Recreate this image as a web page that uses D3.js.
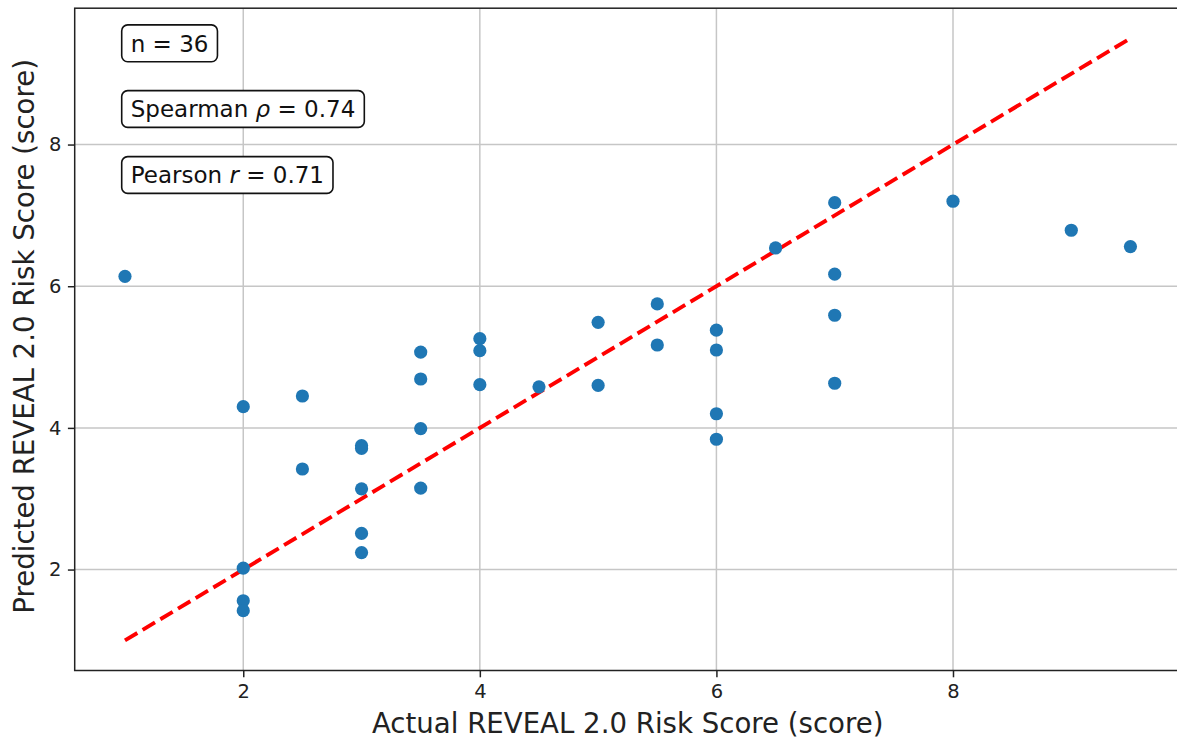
<!DOCTYPE html>
<html>
<head>
<meta charset="utf-8">
<script src="https://cdn.jsdelivr.net/npm/d3@7"></script>
<style>
  body { margin: 0; background: #fff; }
  svg { display: block; font-family: "DejaVu Sans", sans-serif; }
</style>
</head>
<body>
<div id="plot"></div>
<script>
// actual vs predicted REVEAL 2.0 scores
let actual = [1, 2, 2, 2, 2, 2.5, 2.5, 3, 3, 3, 3, 3, 3.5, 3.5, 3.5, 3.5,
              4, 4, 4, 4.5, 5, 5, 5.5, 5.5, 6, 6, 6, 6, 6.5, 7, 7, 7, 7, 8, 9, 9.5];
let predicted = [6.14, 4.30, 2.02, 1.56, 1.42, 4.45, 3.42, 3.75, 3.71, 3.14, 2.51, 2.24,
                 5.07, 4.69, 3.99, 3.15, 5.26, 5.09, 4.61, 4.58, 5.49, 4.60, 5.75, 5.17,
                 5.38, 5.10, 4.20, 3.84, 6.54, 7.18, 6.17, 5.59, 4.63, 7.20, 6.79, 6.56];
let xTicks = [2, 4, 6, 8];
let yTicks = [2, 4, 6, 8];
let identity = [1, 9.5];
let stats = [
    { parts: [["n = 36", false]] },
    { parts: [["Spearman ", false], ["ρ", true], [" = 0.74", false]] },
    { parts: [["Pearson ", false], ["r", true], [" = 0.71", false]] }
];

let svgWidth = 1177;
let svgHeight = 740;
let plot = { left: 74.7, right: 1180.7, top: 8.2, bottom: 670.5 };

let x = d3.scaleLinear().domain([0.575, 9.925]).range([plot.left, plot.right]);
let y = d3.scaleLinear().domain([0.575, 9.925]).range([plot.bottom, plot.top]);

let svg = d3.select('#plot')
    .append('svg')
    .attr('width', svgWidth)
    .attr('height', svgHeight);

// grid
let grid = svg.append('g');
grid.selectAll('.gx').data(xTicks).enter()
    .append('line')
    .attr('x1', d => x(d)).attr('x2', d => x(d))
    .attr('y1', plot.top).attr('y2', plot.bottom)
    .attr('stroke', '#c6c6c6').attr('stroke-width', 1.5);
grid.selectAll('.gy').data(yTicks).enter()
    .append('line')
    .attr('x1', plot.left).attr('x2', plot.right)
    .attr('y1', d => y(d)).attr('y2', d => y(d))
    .attr('stroke', '#c6c6c6').attr('stroke-width', 1.5);

// identity line
svg.append('line')
    .attr('x1', x(identity[0])).attr('y1', y(identity[0]))
    .attr('x2', x(identity[1])).attr('y2', y(identity[1]))
    .attr('stroke', '#ff0000')
    .attr('stroke-width', 3.9)
    .attr('stroke-dasharray', '14.4,6.2');

// points
svg.selectAll('circle').data(actual).enter()
    .append('circle')
    .attr('cx', d => x(d))
    .attr('cy', (d, i) => y(predicted[i]))
    .attr('r', 6.6)
    .attr('fill', '#1f77b4');

// axes
let xAxis = d3.axisBottom(x).tickValues(xTicks).tickSize(6.8).tickPadding(6.5).tickFormat(d3.format('d'));
let yAxis = d3.axisLeft(y).tickValues(yTicks).tickSize(6.8).tickPadding(6.5).tickFormat(d3.format('d'));

let gx = svg.append('g')
    .attr('transform', `translate(0,${plot.bottom})`)
    .call(xAxis);
let gy = svg.append('g')
    .attr('transform', `translate(${plot.left},0)`)
    .call(yAxis);

[gx, gy].forEach(g => {
    g.select('.domain').remove();
    g.selectAll('.tick line').attr('stroke', '#222').attr('stroke-width', 1.5);
    g.selectAll('.tick text')
        .attr('fill', '#222')
        .style('font-family', '"DejaVu Sans", sans-serif')
        .style('font-size', '19.5px');
});

// spines
svg.append('rect')
    .attr('x', plot.left).attr('y', plot.top)
    .attr('width', plot.right - plot.left)
    .attr('height', plot.bottom - plot.top)
    .attr('fill', 'none')
    .attr('stroke', '#222')
    .attr('stroke-width', 1.5);

// axis labels
svg.append('text')
    .attr('x', (plot.left + plot.right) / 2)
    .attr('y', 733)
    .attr('text-anchor', 'middle')
    .attr('fill', '#222')
    .style('font-size', '27.6px')
    .text('Actual REVEAL 2.0 Risk Score (score)');

svg.append('text')
    .attr('transform', `translate(34,${(plot.top + plot.bottom) / 2 - 3}) rotate(-90)`)
    .attr('text-anchor', 'middle')
    .attr('fill', '#222')
    .style('font-size', '27.6px')
    .text('Predicted REVEAL 2.0 Risk Score (score)');

// stat boxes
let boxCenters = [43.3, 109, 175];
stats.forEach((s, i) => {
    let g = svg.append('g');
    let rect = g.append('rect');
    let t = g.append('text')
        .attr('x', 130.7)
        .attr('y', boxCenters[i] + 8.2)
        .attr('fill', '#111')
        .style('font-size', '23px');
    s.parts.forEach(p => {
        t.append('tspan')
            .style('font-style', p[1] ? 'italic' : 'normal')
            .text(p[0]);
    });
    let bb = t.node().getBBox();
    rect.attr('x', 121.7)
        .attr('y', boxCenters[i] - 18.4)
        .attr('width', bb.width + 18)
        .attr('height', 36.8)
        .attr('rx', 6).attr('ry', 6)
        .attr('fill', '#fff')
        .attr('stroke', '#111')
        .attr('stroke-width', 1.6);
});
</script>
</body>
</html>
